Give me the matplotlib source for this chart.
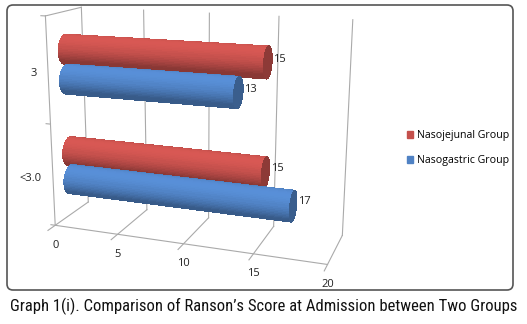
import numpy as np
import matplotlib

matplotlib.use("Agg")
import matplotlib.pyplot as plt
from matplotlib import font_manager
from matplotlib.colors import to_rgb
from matplotlib.patches import FancyBboxPatch, Patch
from mpl_toolkits.mplot3d import proj3d

# data
categories = ["<3.0", "3"]
nasojejunal = [15, 15]
nasogastric = [17, 13]
x_ticks = [0, 5, 10, 15, 20]
series_names = ["Nasojejunal Group", "Nasogastric Group"]
caption = "Graph 1(i). Comparison of Ranson\u2019s Score at Admission between Two Groups"

RED = "#C4504C"
BLUE = "#5082C4"
GRID = "#AAAAAA"
SMALL_FONT = ["Open Sans", "DejaVu Sans"]

BOX = (4.2, 1.1, 3.2)
Z_TOP = len(categories)
RADIUS = 0.5 / 3.5  # bar radius in category units
W_PX, H_PX = 527, 324


def pick_font(names):
    for name in names:
        try:
            font_manager.findfont(name, fallback_to_default=False)
            return name
        except ValueError:
            continue
    return "DejaVu Sans"


CAPTION_FONT = pick_font(["Liberation Sans Narrow", "Roboto Condensed", "Liberation Sans"])

fig = plt.figure(figsize=(W_PX / 100, H_PX / 100), dpi=100)
ax = fig.add_axes([0.05, 0.1, 0.65, 0.85], projection="3d", computed_zorder=False)
ax.set_xlim(0, x_ticks[-1])
ax.set_ylim(0, 1)
ax.set_zlim(0, Z_TOP)
ax.set_box_aspect(BOX)
ax.set_proj_type("persp", focal_length=0.43)
ax.view_init(elev=15, azim=-70)
ax.set_axis_off()
ax.patch.set_facecolor("none")

R_BOX = RADIUS * BOX[2] / Z_TOP
RY = R_BOX / BOX[1]


def shaded(color, theta):
    """Cylinder shading: light from above-front, darker underside."""
    base = np.array(to_rgb(color))
    f = np.cos(theta) * -0.5 + np.sin(theta) * 0.87
    factor = 0.7 + 0.4 * np.clip(f, 0, 1)
    return np.clip(base[None, :] * factor[:, None], 0, 1)


def cylinder(length, zc, color, zorder):
    t = np.linspace(0, 2 * np.pi, 60)
    xs = np.array([0.0, length])
    T, X = np.meshgrid(t, xs)
    Y = 0.5 + RY * np.cos(T)
    Z = zc + RADIUS * np.sin(T)
    cols = shaded(color, t)
    fc = np.broadcast_to(np.concatenate([cols, np.ones((len(t), 1))], axis=1), T.shape + (4,))
    ax.plot_surface(X, Y, Z, facecolors=fc, linewidth=0, antialiased=False,
                    shade=False, rcount=2, ccount=60, zorder=zorder)
    T2, R2 = np.meshgrid(t, np.array([0.0, 1.0]))
    cap = np.array(to_rgb(color)) * 0.72
    ax.plot_surface(np.full_like(T2, length), 0.5 + RY * R2 * np.cos(T2), zc + RADIUS * R2 * np.sin(T2),
                    color=cap, linewidth=0, antialiased=False, shade=False,
                    rcount=2, ccount=60, zorder=zorder + 0.5)


# walls and gridlines
line_kw = dict(color=GRID, lw=0.8, zorder=1)
for x in x_ticks:
    ax.plot([x, x], [1, 1], [0, Z_TOP], **line_kw)
    ax.plot([x, x], [-0.2, 1], [0, 0], **line_kw)
ax.plot([0, x_ticks[-1]], [0, 0], [0, 0], **line_kw)
ax.plot([0, 0], [0, 0], [0, Z_TOP], **line_kw)
ax.plot([0, 0], [0, 1], [Z_TOP, Z_TOP], **line_kw)
for z in range(Z_TOP + 1):
    ax.plot([-0.35, 0], [0, 0], [z, z], **line_kw)

# bars: red above blue within each category, blue drawn on top
for i in range(len(categories)):
    zc = i + 0.5
    cylinder(nasojejunal[i], zc + RADIUS, RED, 3 + 2 * i)
    cylinder(nasogastric[i], zc - RADIUS, BLUE, 4 + 2 * i)


# fit the projected box onto the reference frame
def to_px(x, y, z):
    xs, ys, _ = proj3d.proj_transform(x, y, z, ax.get_proj())
    return np.array(ax.transData.transform((xs, ys)))


ta = np.array([55.0, H_PX - 225.0])
tb = np.array([353.0, H_PX - 20.0])
for _ in range(3):
    fig.canvas.draw()
    a = to_px(0, 0, 0)
    b = to_px(x_ticks[-1], 1, Z_TOP)
    k = np.linalg.norm(tb - ta) / np.linalg.norm(b - a)
    bb = ax.get_position(original=True)
    c = np.array([(bb.x0 + bb.x1) / 2 * W_PX, (bb.y0 + bb.y1) / 2 * H_PX])
    mid = c + k * ((a + b) / 2 - c)
    c_new = c + (ta + tb) / 2 - mid
    w, h = bb.width * k, bb.height * k
    ax.set_position([c_new[0] / W_PX - w / 2, c_new[1] / H_PX - h / 2, w, h])
fig.canvas.draw()


def label_at(point, dx, dy, s, **kw):
    px = point + np.array([dx, dy])
    fig.text(px[0] / W_PX, px[1] / H_PX, s, fontsize=8, family=SMALL_FONT, color="#222222", **kw)


for i, cat in enumerate(categories):
    zc = i + 0.5
    label_at(to_px(0, 0, zc), -11, -3, cat, ha="right", va="center")
    for vals, zz in ((nasojejunal, zc + RADIUS), (nasogastric, zc - RADIUS)):
        label_at(to_px(vals[i], 0.5 + RY, zz), 1, 0, str(vals[i]), ha="left", va="center")

for x in x_ticks:
    label_at(to_px(x, 0, 0), 0, -20, str(x), ha="center", va="center")

# legend, frame, caption
handles = [Patch(color=RED), Patch(color=BLUE)]
fig.legend(handles, series_names, loc="center left", bbox_to_anchor=(397 / W_PX, 1 - 148 / H_PX),
           frameon=False, handlelength=0.6, handleheight=0.6, handletextpad=0.4,
           labelspacing=1.3, prop={"family": SMALL_FONT, "size": 7.7})

frame = FancyBboxPatch((0.07, 0.34), 5.06, 2.85, boxstyle="round,pad=0,rounding_size=0.06",
                       transform=fig.dpi_scale_trans, facecolor="none", edgecolor="#555555", lw=1.2)
fig.add_artist(frame)

cap_text = fig.text(0.5, 1 - 306 / H_PX, caption, ha="center", va="center", fontsize=12,
                    family=CAPTION_FONT, color="#111111")
fig.canvas.draw()
width = cap_text.get_window_extent().width
cap_text.set_fontsize(min(13, 12 * 505 / width))

fig.savefig("out.png", dpi=100, facecolor="white")
